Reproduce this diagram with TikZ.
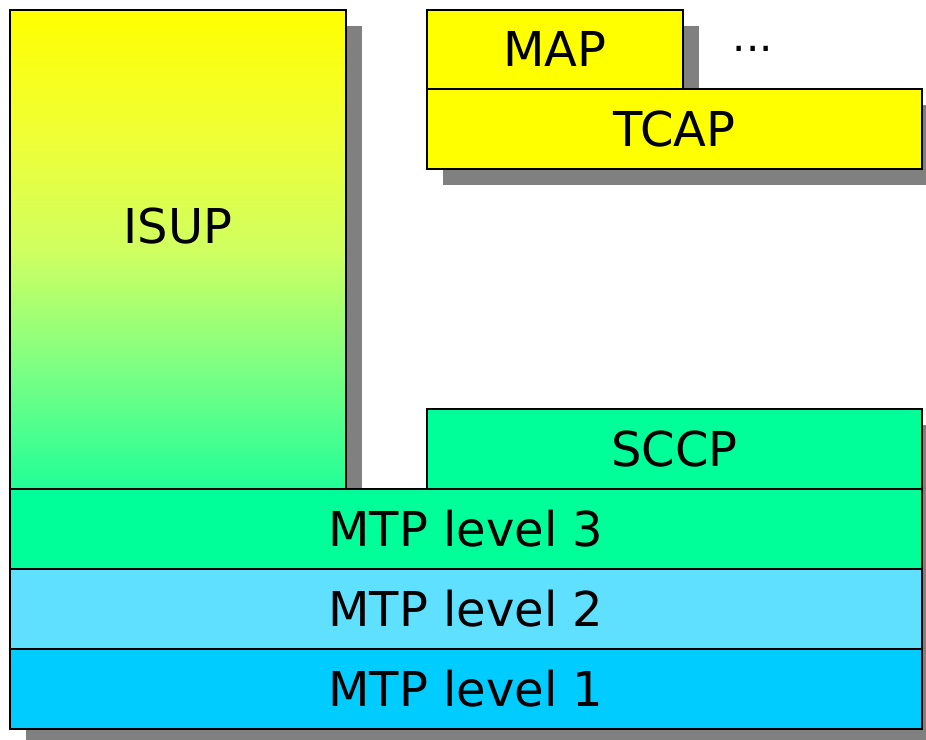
\documentclass[tikz,border=0pt]{standalone}
\usepackage{fontspec}
\setmainfont{DejaVu Sans}
\definecolor{shadowgray}{HTML}{808080}
\definecolor{mtpthree}{HTML}{00FF99}
\definecolor{mtptwo}{HTML}{60E0FF}
\definecolor{mtpone}{HTML}{00CCFF}
\definecolor{boxyellow}{HTML}{FFFF00}
\definecolor{isupB}{HTML}{20FF98}
\definecolor{isupC}{HTML}{7CFF84}
\definecolor{isupD}{HTML}{D0FF60}
\definecolor{isupE}{HTML}{F0FF34}
\pgfdeclareverticalshading{isupshade}{100bp}{color(0bp)=(isupB); color(25bp)=(isupB); color(37.5bp)=(isupC); color(50bp)=(isupD); color(62.5bp)=(isupE); color(75bp)=(boxyellow); color(100bp)=(boxyellow)}
\begin{document}
\begin{tikzpicture}[x=1pt,y=-1pt,
  box/.style={draw=black, line width=1.3pt, rectangle, inner sep=0pt, outer sep=0pt, anchor=north west, font=\fontsize{48}{56}\selectfont},
  lbl/.style={inner sep=0pt, font=\fontsize{48}{56}\selectfont},
  shadowfill/.style={fill=shadowgray, draw=none}]
\useasboundingbox (0,0) rectangle (926,739);
% shadows
\fill[shadowfill] (26,26) rectangle (362,505);
\fill[shadowfill] (443,26) rectangle (699,105);
\fill[shadowfill] (443,105) rectangle (938,185);
\fill[shadowfill] (443,425) rectangle (938,505);
\fill[shadowfill] (26,505) rectangle (938,745);
% boxes
\node[box, shade, shading=isupshade, minimum width=336pt, minimum height=479pt] (isup) at (10,10) {};
\node[lbl] (isuplabel) at (178,226) {ISUP};
\node[box, fill=boxyellow, minimum width=256pt, minimum height=79pt] (map) at (427,10) {MAP};
\node[box, fill=boxyellow, minimum width=495pt, minimum height=80pt] (tcap) at (427,89) {TCAP};
\node[lbl, anchor=base, font=\fontsize{42}{50}\selectfont] (dots) at (753,51) {...};
\node[box, fill=mtpthree, minimum width=495pt, minimum height=80pt] (sccp) at (427,409) {SCCP};
\node[box, fill=mtpthree, minimum width=912pt, minimum height=80pt] (mtp3) at (10,489) {MTP level 3};
\node[box, fill=mtptwo, minimum width=912pt, minimum height=80pt] (mtp2) at (10,569) {MTP level 2};
\node[box, fill=mtpone, minimum width=912pt, minimum height=80pt] (mtp1) at (10,649) {MTP level 1};
\end{tikzpicture}
\end{document}
